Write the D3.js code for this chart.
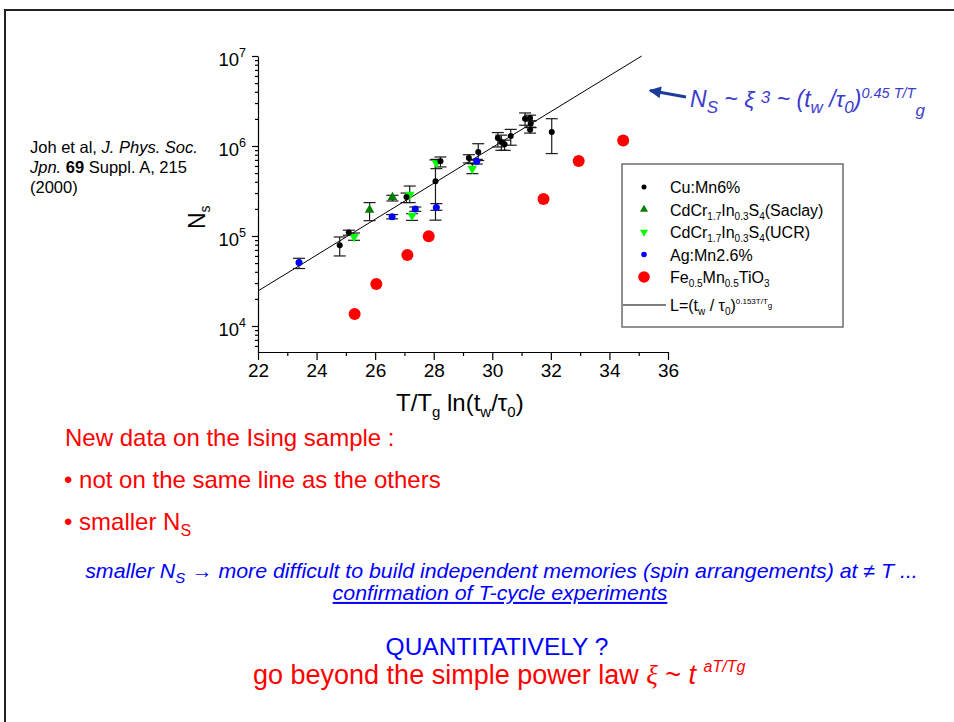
<!DOCTYPE html>
<html>
<head>
<meta charset="utf-8">
<script src="https://cdn.jsdelivr.net/npm/d3@7"></script>
<style>
  body { margin: 0; background: #fff; }
  svg { display: block; font-family: "Liberation Sans", Arial, sans-serif; }
</style>
</head>
<body>
<svg id="chart" width="954" height="722"></svg>
<script>
// each point: [T/Tg ln(tw/t0), Ns, error low, error high]
var cuMn6 = [
  [24.79, 78900, 60000, 97500],
  [25.10, 109000, 102000, 116000],
  [27.07, 271000, 235000, 300000],
  [28.06, 407000, 150000, 700000],
  [28.23, 676000, 585000, 755000],
  [29.20, 736000, 648000, 800000],
  [29.52, 857000, 690000, 1060000],
  [30.19, 1230000, 975000, 1410000],
  [30.31, 1110000, 895000, 1320000],
  [30.42, 1045000, 895000, 1160000],
  [30.63, 1290000, 1020000, 1530000],
  [31.12, 2010000, 1700000, 2330000],
  [31.29, 2050000, 1900000, 2200000],
  [31.31, 1770000, 1600000, 1900000],
  [31.29, 1520000, 1390000, 1620000],
  [32.03, 1430000, 824000, 2010000]
];
var cdSaclay = [
  [25.81, 195000, 148000, 235000],
  [26.59, 269000, 245000, 283000]
];
var cdUCR = [
  [25.28, 98000, 89600, 108000],
  [27.18, 288000, 235000, 359000],
  [27.26, 169000, 149000, 177000],
  [28.09, 646000, 560000, 710000],
  [29.32, 561000, 493000, 637000]
];
var agMn = [
  [23.40, 50600, 43500, 56500],
  [26.58, 164000, 155000, 173000],
  [27.37, 200000, 188000, 210000],
  [28.09, 207000, 193000, 229000],
  [29.47, 676000, 630000, 710000]
];
var feMnTiO3 = [
  [25.30, 13600],
  [26.04, 29300],
  [27.10, 61500],
  [27.83, 99300],
  [31.75, 257000],
  [32.95, 681000],
  [34.47, 1150000]
];
// fitted power law, end points
var fitX = [22, 35.1];
var fitY = [24500, 10000000];

var xTicks = [22, 24, 26, 28, 30, 32, 34, 36];
var xMinor = [23, 25, 27, 29, 31, 33, 35];
var yDecades = [4, 5, 6, 7];

var svg = d3.select('#chart');

// slide frame
svg.append('rect').attr('x', 5).attr('y', 10).attr('width', 960).attr('height', 720)
  .attr('fill', 'none').attr('stroke', '#222').attr('stroke-width', 2);

var x = d3.scaleLinear().domain([22, 36]).range([258, 668]);
var y = d3.scaleLog().domain([5140, 1e7]).range([352, 56]);

// axes
var xAxis = svg.append('g').attr('transform', 'translate(0,352)')
  .call(d3.axisBottom(x).tickValues(xTicks).tickSize(8).tickSizeOuter(0).tickFormat(d3.format('d')));
svg.append('g').attr('transform', 'translate(0,352)')
  .call(d3.axisBottom(x).tickValues(xMinor).tickSize(4).tickSizeOuter(0).tickFormat(''))
  .select('.domain').remove();
xAxis.selectAll('text').attr('font-size', 19).attr('font-family', 'Liberation Sans, Arial')
  .attr('fill', '#000').attr('y', 12);

var yMinor = [];
[3, 4, 5, 6].forEach(function(k) {
  d3.range(2, 10).forEach(function(m) {
    var v = m * Math.pow(10, k);
    if (v >= 5140 && v < 1e7) yMinor.push(v);
  });
});
svg.append('g').attr('transform', 'translate(258,0)')
  .call(d3.axisLeft(y).tickValues(yDecades.map(function(d) { return Math.pow(10, d); }))
    .tickSize(6).tickSizeOuter(0).tickFormat(''));
svg.append('g').attr('transform', 'translate(258,0)')
  .call(d3.axisLeft(y).tickValues(yMinor).tickSize(3).tickSizeOuter(0).tickFormat(''))
  .select('.domain').remove();
svg.selectAll('.domain, .tick line').attr('stroke', '#000').attr('stroke-width', 1.2);

yDecades.forEach(function(d) {
  var t = svg.append('text').attr('x', 246).attr('y', y(Math.pow(10, d)) + 10)
    .attr('text-anchor', 'end').attr('font-size', 18.5);
  t.append('tspan').text('10');
  t.append('tspan').attr('font-size', 12.5).attr('dy', -9).text(d);
});

// axis titles
var xt = svg.append('text').attr('x', 396).attr('y', 411).attr('font-size', 24);
xt.append('tspan').text('T/T');
xt.append('tspan').attr('font-size', 15).attr('dy', 6).text('g');
xt.append('tspan').attr('dy', -6).text(' ln(t');
xt.append('tspan').attr('font-size', 15).attr('dy', 6).text('w');
xt.append('tspan').attr('dy', -6).text('/\u03c4');
xt.append('tspan').attr('font-size', 15).attr('dy', 6).text('0');
xt.append('tspan').attr('dy', -6).text(')');

var yt = svg.append('text').attr('transform', 'translate(205,229) rotate(-90)').attr('font-size', 23);
yt.append('tspan').text('N');
yt.append('tspan').attr('font-size', 14).attr('dy', 5).text('s');

// fit line
svg.append('path').datum(d3.zip(fitX, fitY))
  .attr('d', d3.line().x(function(d) { return x(d[0]); }).y(function(d) { return y(d[1]); }))
  .attr('fill', 'none').attr('stroke', '#000').attr('stroke-width', 1);

// error bars
function errorBars(data) {
  var g = svg.append('g').attr('stroke', '#1a1a1a').attr('stroke-width', 1.2);
  data.forEach(function(d) {
    var px = x(d[0]);
    g.append('line').attr('x1', px).attr('x2', px).attr('y1', y(d[2])).attr('y2', y(d[3]));
    [d[2], d[3]].forEach(function(v) {
      g.append('line').attr('x1', px - 6).attr('x2', px + 6).attr('y1', y(v)).attr('y2', y(v));
    });
  });
}
errorBars(cuMn6);
errorBars(cdSaclay);
errorBars(cdUCR);
errorBars(agMn);

var triUp = d3.symbol(d3.symbolTriangle, 40);

function dots(data, r, color) {
  svg.append('g').selectAll('circle').data(data).enter().append('circle')
    .attr('cx', function(d) { return x(d[0]); })
    .attr('cy', function(d) { return y(d[1]); })
    .attr('r', r).attr('fill', color);
}
function tris(data, color, down) {
  svg.append('g').selectAll('path').data(data).enter().append('path')
    .attr('d', triUp)
    .attr('transform', function(d) {
      return 'translate(' + x(d[0]) + ',' + y(d[1]) + ')' + (down ? ' rotate(180)' : '');
    })
    .attr('fill', color);
}
tris(cdSaclay, '#008000', false);
tris(cdUCR, '#00ff00', true);
dots(agMn, 3.5, '#0000ff');
dots(cuMn6, 3, '#000');
dots(feMnTiO3, 6, '#ff0000');

// legend
var lg = svg.append('g');
lg.append('rect').attr('x', 622).attr('y', 164).attr('width', 221).attr('height', 163)
  .attr('fill', '#fff').attr('stroke', '#6e6e6e').attr('stroke-width', 1.5);

var legendItems = [
  { parts: [['Cu:Mn6%', 0]], kind: 'dot', r: 2.5, color: '#000' },
  { parts: [['CdCr', 0], ['1.7', 1], ['In', 0], ['0.3', 1], ['S', 0], ['4', 1], ['(Saclay)', 0]], kind: 'up', color: '#008000' },
  { parts: [['CdCr', 0], ['1.7', 1], ['In', 0], ['0.3', 1], ['S', 0], ['4', 1], ['(UCR)', 0]], kind: 'down', color: '#00ff00' },
  { parts: [['Ag:Mn2.6%', 0]], kind: 'dot', r: 2.8, color: '#0000ff' },
  { parts: [['Fe', 0], ['0.5', 1], ['Mn', 0], ['0.5', 1], ['TiO', 0], ['3', 1]], kind: 'dot', r: 5.8, color: '#ff0000' },
  { parts: [['L=(t', 0], ['w', 1], [' / \u03c4', 0], ['0', 1], [')', 0], ['0.153T/T', 2], ['g', 3]], kind: 'line', color: '#000' }
];
var triSmall = d3.symbol(d3.symbolTriangle, 28);
legendItems.forEach(function(it, i) {
  var cy = 187 + i * 22.5 + (it.kind === 'line' ? 5.5 : 0);
  if (it.kind === 'dot') {
    lg.append('circle').attr('cx', 644).attr('cy', cy).attr('r', it.r).attr('fill', it.color);
  } else if (it.kind === 'up' || it.kind === 'down') {
    lg.append('path').attr('d', triSmall).attr('fill', it.color)
      .attr('transform', 'translate(644,' + cy + ')' + (it.kind === 'down' ? ' rotate(180)' : ''));
  } else {
    lg.append('line').attr('x1', 623).attr('x2', 666).attr('y1', cy).attr('y2', cy)
      .attr('stroke', it.color).attr('stroke-width', 1.2);
  }
  var t = lg.append('text').attr('x', 670).attr('y', cy + 6).attr('font-size', 16);
  var shift = 0;
  it.parts.forEach(function(p) {
    var target = p[1] === 1 ? 4 : p[1] === 2 ? -7 : p[1] === 3 ? -3 : 0;
    var size = p[1] === 0 ? 16 : p[1] === 1 ? 10 : 8;
    t.append('tspan').attr('font-size', size).attr('dy', target - shift).text(p[0]);
    shift = target;
  });
});

// citation
var cite = [
  [['Joh et al, ', ''], ['J. Phys. Soc.', 'i']],
  [['Jpn.', 'i'], [' ', ''], ['69', 'b'], [' Suppl. A, 215', '']],
  [['(2000)', '']]
];
cite.forEach(function(line, i) {
  var t = svg.append('text').attr('x', 30).attr('y', 153 + i * 20).attr('font-size', 16.5);
  line.forEach(function(p) {
    t.append('tspan').attr('font-style', p[1] === 'i' ? 'italic' : null)
      .attr('font-weight', p[1] === 'b' ? 'bold' : null).text(p[0]);
  });
});

// arrow + scaling formula
svg.append('defs').append('marker').attr('id', 'ah').attr('viewBox', '0 0 10 10')
  .attr('refX', 9).attr('refY', 5).attr('markerWidth', 5.5).attr('markerHeight', 4)
  .attr('markerUnits', 'strokeWidth').attr('orient', 'auto')
  .append('path').attr('d', 'M0,0L10,5L0,10z').attr('fill', '#1c3c9c');
svg.append('line').attr('x1', 686).attr('y1', 97).attr('x2', 650).attr('y2', 90.5)
  .attr('stroke', '#1c3c9c').attr('stroke-width', 3).attr('marker-end', 'url(#ah)');

var f = svg.append('text').attr('x', 690).attr('y', 107).attr('font-size', 23)
  .attr('font-style', 'italic').attr('fill', '#3c3ccc');
var fParts = [['N', 0], ['S', 1], [' ~ \u03be ', 0], ['3', 2], [' ~ (t', 0], ['w', 1], [' /\u03c4', 0], ['0', 1], [')', 0], ['0.45 T/T', 3], ['g', 4]];
var fShift = 0;
fParts.forEach(function(p) {
  var off = [0, 6, -4, -9, 9][p[1]];
  var size = [23, 17, 17, 14.5, 17][p[1]];
  f.append('tspan').attr('font-size', size).attr('dy', off - fShift).text(p[0]);
  fShift = off;
});

// bullet text
var red = '#ff0000', blue = '#0000ff';
svg.append('text').attr('x', 65).attr('y', 446).attr('font-size', 24).attr('fill', red)
  .text('New data on the Ising sample :');
svg.append('text').attr('x', 64).attr('y', 488).attr('font-size', 24).attr('fill', red)
  .text('\u2022 not on the same line as the others');
var b3 = svg.append('text').attr('x', 64).attr('y', 530).attr('font-size', 24).attr('fill', red);
b3.append('tspan').text('\u2022 smaller N');
b3.append('tspan').attr('font-size', 16).attr('dy', 6).text('S');

function fit(sel, cx, width) {
  var w = sel.node().getComputedTextLength();
  var base = +sel.attr('y');
  sel.attr('x', 0).attr('y', 0).attr('text-anchor', 'middle')
    .attr('transform', 'translate(' + cx + ',' + base + ') scale(' + (width / w) + ',1)');
}
var l1 = svg.append('text').attr('y', 578).attr('font-size', 20).attr('font-style', 'italic').attr('fill', blue);
l1.append('tspan').text('smaller N');
l1.append('tspan').attr('font-size', 14).attr('dy', 5).text('S');
l1.append('tspan').attr('dy', -5).text(' \u2192 more difficult to build independent memories (spin arrangements) at \u2260 T ...');
fit(l1, 501.5, 833);
var l2 = svg.append('text').attr('y', 600).attr('font-size', 20).attr('font-style', 'italic').attr('fill', blue)
  .attr('text-decoration', 'underline').text('confirmation of T-cycle experiments');
fit(l2, 500, 335);

svg.append('text').attr('x', 497).attr('y', 655).attr('text-anchor', 'middle').attr('font-size', 24.5)
  .attr('fill', blue).text('QUANTITATIVELY ?');
var g2 = svg.append('text').attr('x', 253).attr('y', 684).attr('font-size', 27).attr('fill', red);
g2.append('tspan').text('go beyond the simple power law ');
g2.append('tspan').attr('font-family', 'Liberation Serif, Times New Roman, serif').attr('font-style', 'italic').text('\u03be');
g2.append('tspan').text(' ~ ');
g2.append('tspan').attr('font-style', 'italic').text('t ');
g2.append('tspan').attr('font-style', 'italic').attr('font-size', 16).attr('dy', -12).text('aT/Tg');
</script>
</body>
</html>
